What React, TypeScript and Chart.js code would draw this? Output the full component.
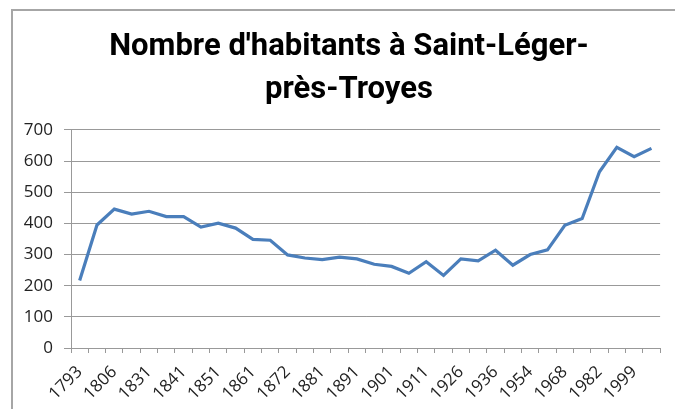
import React, { useEffect, useRef } from "react";
import { Chart, registerables } from "chart.js";

Chart.register(...registerables);

const years = [
  "1793", "1800", "1806", "1821", "1831", "1836", "1841", "1846", "1851", "1856",
  "1861", "1866", "1872", "1876", "1881", "1886", "1891", "1896", "1901", "1906",
  "1911", "1921", "1926", "1931", "1936", "1946", "1954", "1962", "1968", "1975",
  "1982", "1990", "1999", "2006",
];

const population = [
  217, 395, 446, 430, 439, 422, 422, 388, 401, 385,
  349, 346, 299, 289, 284, 292, 286, 269, 262, 240,
  277, 233, 286, 280, 314, 266, 300, 315, 394, 416,
  566, 644, 614, 641,
];

const titleLines = ["Nombre d'habitants à Saint-Léger-", "près-Troyes"];

const shiftTitle = {
  id: "shiftTitle",
  afterLayout(chart: any) {
    const t = chart.titleBlock;
    if (t) {
      t.left += 15.5;
      t.right += 15.5;
    }
  },
};

export default function App() {
  const ref = useRef<HTMLCanvasElement>(null);

  useEffect(() => {
    if (!ref.current) return;
    const chart = new Chart(ref.current, {
      type: "line",
      data: {
        labels: years,
        datasets: [
          {
            data: population,
            borderColor: "#4a7ebb",
            borderWidth: 3.2,
            pointRadius: 0,
            tension: 0,
            fill: false,
          },
        ],
      },
      plugins: [shiftTitle],
      options: {
        animation: false,
        responsive: false,
        layout: { padding: { left: 0, right: 8, top: 26, bottom: 0 } },
        plugins: {
          legend: { display: false },
          tooltip: { enabled: false },
          title: {
            display: true,
            text: titleLines,
            color: "#000",
            font: {
              family: "Roboto, 'Open Sans', sans-serif",
              size: 31,
              weight: "bold",
              lineHeight: 1.387,
            },
            padding: { top: 0, bottom: 18 },
          },
        },
        scales: {
          x: {
            type: "category",
            offset: true,
            grid: {
              display: true,
              drawOnChartArea: false,
              drawTicks: true,
              tickLength: 5,
              offset: true,
              color: "#999",
            },
            border: { display: true, color: "#999", width: 1 },
            ticks: {
              autoSkip: false,
              minRotation: 45,
              maxRotation: 45,
              padding: 9,
              color: "#222",
              font: { family: "'Open Sans', sans-serif", size: 17 },
              callback: (_v: any, i: number) => (i % 2 === 0 ? years[i] : ""),
            },
            afterFit: (s: any) => {
              s.height = 61;
            },
          },
          y: {
            min: 0,
            max: 700,
            ticks: {
              stepSize: 100,
              padding: 11,
              color: "#222",
              font: { family: "'Open Sans', sans-serif", size: 17 },
            },
            grid: { color: "#999", tickLength: 7, lineWidth: 1 },
            border: { display: true, color: "#999", width: 1 },
            afterFit: (s: any) => {
              s.width = 71;
            },
          },
        },
      } as any,
    });
    return () => chart.destroy();
  }, []);

  return (
    <div
      style={{
        position: "fixed",
        left: 0,
        top: 0,
        width: 675,
        height: 409,
        overflow: "hidden",
        background: "#fff",
      }}
    >
      <div
        style={{
          position: "absolute",
          left: 11,
          top: 9,
          width: 720,
          height: 500,
          border: "2px solid #a6a6a6",
        }}
      />
      <canvas
        ref={ref}
        width={675}
        height={409}
        style={{ position: "absolute", left: 0, top: 0 }}
      />
    </div>
  );
}
